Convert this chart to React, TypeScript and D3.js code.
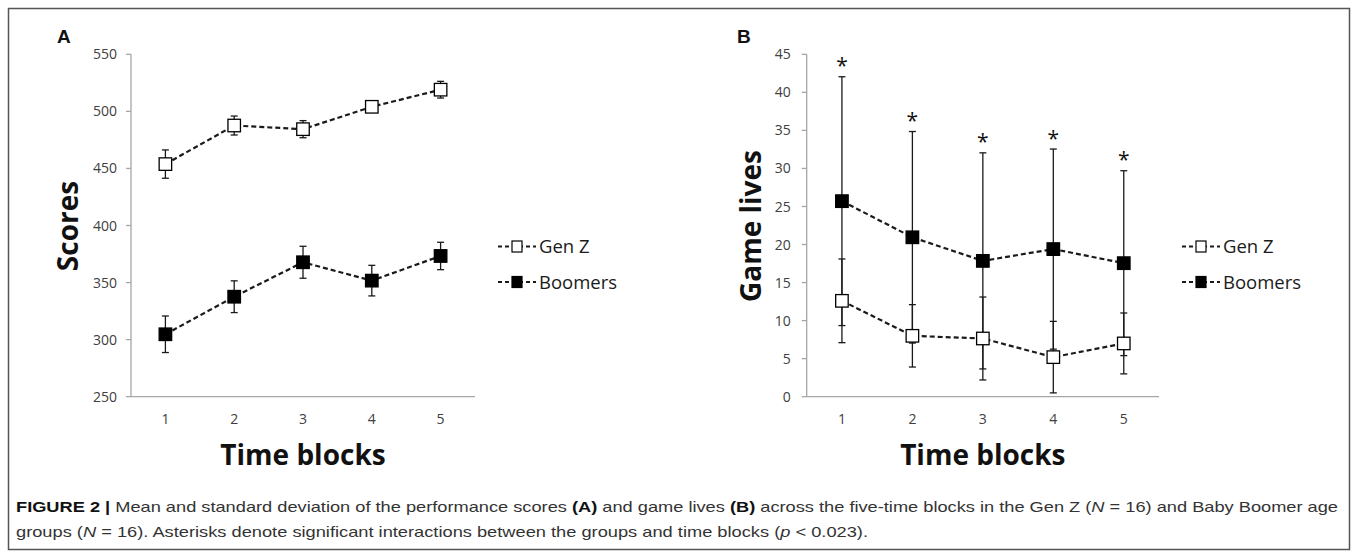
import React from 'react';
import * as d3 from 'd3';

// time blocks on the x axis
const blocks = [1, 2, 3, 4, 5];

// panel A - performance scores
const scoreTicks = [250, 300, 350, 400, 450, 500, 550];
const genZScores = [453.8, 487.6, 484.4, 504, 519];
const genZScoresSd = [12.4, 8.3, 7.5, 4.5, 7.3];
const boomerScores = [304.7, 337.6, 367.8, 351.7, 373.3];
const boomerScoresSd = [16, 13.9, 14, 13.4, 12];

// panel B - game lives
const livesTicks = [0, 5, 10, 15, 20, 25, 30, 35, 40, 45];
const genZLives = [12.6, 8.0, 7.65, 5.2, 7.0];
const genZLivesSd = [5.5, 4.1, 5.45, 4.7, 4.0];
const boomerLives = [25.7, 20.95, 17.85, 19.4, 17.55];
const boomerLivesSd = [16.35, 13.9, 14.2, 13.15, 12.15];
const livesStars = [true, true, true, true, true];

const seriesNames = ['Gen Z', 'Boomers'];

const tickFont = "'Open Sans', 'DejaVu Sans', sans-serif";
const inkColor = '#1a1a1a';
const axisColor = '#a6a6a6';

function Panel({ letter, letterX, x0, x1, yTop, yBottom, domain, ticks, title, titleX, series, stars, labelGap }) {
  const x = d3.scalePoint().domain(blocks).range([x0, x1]).padding(0.5);
  const y = d3.scaleLinear().domain(domain).range([yBottom, yTop]);
  const line = d3.line<number>()
    .x((d, i) => x(blocks[i]))
    .y(d => y(d));

  const cap = 3.5;
  const box = 12.5;
  const legendX = x1 + 23;
  const legendY = [246.5, 282];

  return (
    <g>
      <text x={letterX} y={43} fontFamily="'Liberation Sans', Arial, sans-serif" fontWeight="bold"
        fontSize={19} fill="#111">{letter}</text>

      {/* axes */}
      <line x1={x0} x2={x0} y1={yTop} y2={yBottom} stroke={axisColor} strokeWidth={1.3} />
      <line x1={x0} x2={x1} y1={yBottom} y2={yBottom} stroke={axisColor} strokeWidth={1.3} />
      {ticks.map(t => (
        <g key={t}>
          <line x1={x0 - 5} x2={x0} y1={y(t)} y2={y(t)} stroke={axisColor} strokeWidth={1.3} />
          <text x={x0 - labelGap} y={y(t)} dy="0.36em" textAnchor="end" fontFamily={tickFont}
            fontSize={14} fill="#404040">{t}</text>
        </g>
      ))}
      {blocks.map(b => (
        <text key={b} x={x(b)} y={419} dy="0.36em" textAnchor="middle" fontFamily={tickFont}
          fontSize={14} fill="#404040">{b}</text>
      ))}

      <text transform={`translate(${titleX},226) rotate(-90)`} textAnchor="middle" fontFamily={tickFont}
        fontWeight="bold" fontSize={28} fill="#111">{title}</text>
      <text x={(x0 + x1) / 2} y={465} textAnchor="middle" fontFamily={tickFont}
        fontWeight="bold" fontSize={28} fill="#111">Time blocks</text>

      {/* error bars */}
      {series.map((s, si) => s.mean.map((m, i) => {
        const cx = x(blocks[i]);
        const hi = y(m + s.sd[i]);
        const lo = y(m - s.sd[i]);
        return (
          <g key={si + '-' + i} stroke={inkColor} strokeWidth={1.3}>
            <line x1={cx} x2={cx} y1={hi} y2={lo} />
            <line x1={cx - cap} x2={cx + cap} y1={hi} y2={hi} />
            <line x1={cx - cap} x2={cx + cap} y1={lo} y2={lo} />
          </g>
        );
      }))}

      {series.map((s, si) => (
        <path key={si} d={line(s.mean)} fill="none" stroke={inkColor} strokeWidth={2.2}
          strokeDasharray="5,3" />
      ))}

      {series.map((s, si) => s.mean.map((m, i) => (
        <rect key={si + '-' + i} x={x(blocks[i]) - box / 2} y={y(m) - box / 2} width={box} height={box}
          fill={s.filled ? '#000' : '#fff'} stroke="#000" strokeWidth={1.3} />
      )))}

      {stars && stars.map((st, i) => st ? (
        <text key={i} x={x(blocks[i])} y={y(series[1].mean[i] + series[1].sd[i]) - 15} dy="0.55em"
          textAnchor="middle" fontFamily={tickFont} fontSize={21} fill="#111">*</text>
      ) : null)}

      {/* legend */}
      {series.map((s, si) => (
        <g key={si}>
          <line x1={legendX} x2={legendX + 38} y1={legendY[si]} y2={legendY[si]} stroke={inkColor}
            strokeWidth={2} strokeDasharray="4,3" />
          <rect x={legendX + 19 - 5} y={legendY[si] - 5.5} width={10} height={11}
            fill={s.filled ? '#000' : '#fff'} stroke="#000" strokeWidth={1.2} />
          <text x={legendX + 41} y={legendY[si]} dy="0.36em" fontFamily={tickFont} fontSize={18.5}
            fill="#1a1a1a">{seriesNames[si]}</text>
        </g>
      ))}
    </g>
  );
}

export default function App() {
  const scoreSeries = [
    { mean: genZScores, sd: genZScoresSd, filled: false },
    { mean: boomerScores, sd: boomerScoresSd, filled: true },
  ];
  const livesSeries = [
    { mean: genZLives, sd: genZLivesSd, filled: false },
    { mean: boomerLives, sd: boomerLivesSd, filled: true },
  ];
  const capFont = "'Liberation Sans', Arial, sans-serif";

  return (
    <svg width={1358} height={558} style={{ position: 'absolute', left: 0, top: 0, background: '#fff' }}>
      <rect x={8.5} y={8.5} width={1341} height={541} fill="#fff" stroke="#555" strokeWidth={1.5} />

      <Panel letter="A" letterX={57} x0={131} x1={475} yTop={54.3} yBottom={396.7} domain={[250, 550]}
        ticks={scoreTicks} title="Scores" titleX={78} series={scoreSeries} stars={null} labelGap={14} />
      <Panel letter="B" letterX={737} x0={806.7} x1={1159} yTop={54.3} yBottom={396.7} domain={[0, 45]}
        ticks={livesTicks} title="Game lives" titleX={761} series={livesSeries} stars={livesStars} labelGap={16} />

      <text x={16} y={512} fontFamily={capFont} fontSize={15} fill="#333" textLength={1322}
        lengthAdjust="spacingAndGlyphs">
        <tspan fontWeight="bold" fill="#111">FIGURE 2 |</tspan> Mean and standard deviation of the performance scores{' '}
        <tspan fontWeight="bold" fill="#111">(A)</tspan> and game lives{' '}
        <tspan fontWeight="bold" fill="#111">(B)</tspan> across the five-time blocks in the Gen Z (
        <tspan fontStyle="italic">N</tspan> = 16) and Baby Boomer age
      </text>
      <text x={16} y={537} fontFamily={capFont} fontSize={15} fill="#333" textLength={852}
        lengthAdjust="spacingAndGlyphs">
        groups (<tspan fontStyle="italic">N</tspan> = 16). Asterisks denote significant interactions between the groups and time blocks (
        <tspan fontStyle="italic">p</tspan> &lt; 0.023).
      </text>
    </svg>
  );
}
